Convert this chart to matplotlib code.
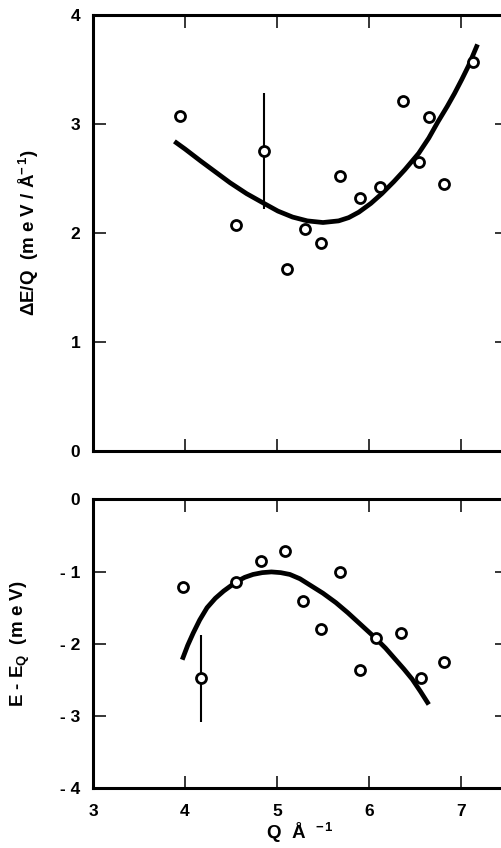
import matplotlib
matplotlib.use('Agg')
import matplotlib.pyplot as plt

# Datos (panel superior: dE/Q)
q_sup = [3.95, 4.56, 4.86, 5.11, 5.30, 5.48, 5.68, 5.90, 6.12, 6.37, 6.54, 6.65, 6.82, 7.13]
de_sup = [3.07, 2.07, 2.75, 1.67, 2.04, 1.91, 2.52, 2.32, 2.42, 3.21, 2.65, 3.06, 2.45, 3.57]
q_err_sup = [4.86]
de_err_sup = [2.75]
err_sup = [0.53]

q_curva_sup = [3.885, 4.0, 4.17, 4.33, 4.49, 4.67, 4.86, 5.01, 5.17, 5.33, 5.50, 5.67,
               5.78, 5.89, 6.02, 6.14, 6.27, 6.39, 6.54, 6.65, 6.75, 6.85, 6.93, 7.01,
               7.08, 7.18]
de_curva_sup = [2.84, 2.77, 2.66, 2.56, 2.46, 2.36, 2.27, 2.20, 2.145, 2.11, 2.095, 2.11,
                2.14, 2.19, 2.27, 2.36, 2.47, 2.58, 2.73, 2.87, 3.02, 3.16, 3.28, 3.41,
                3.53, 3.73]

# Panel inferior: E - E_Q
q_inf = [3.98, 4.17, 4.55, 4.83, 5.09, 5.28, 5.48, 5.68, 5.90, 6.08, 6.35, 6.57, 6.82]
e_inf = [-1.22, -2.48, -1.15, -0.86, -0.72, -1.41, -1.80, -1.00, -2.36, -1.92, -1.85, -2.48, -2.25]
q_err_inf = [4.17]
e_err_inf = [-2.48]
err_inf = [0.60]

q_curva_inf = [3.97, 4.03, 4.09, 4.16, 4.24, 4.33, 4.42, 4.56, 4.65, 4.74, 4.84, 4.94,
               5.04, 5.14, 5.25, 5.35, 5.50, 5.64, 5.77, 5.89, 6.07, 6.18, 6.29, 6.38,
               6.47, 6.56, 6.65]
e_curva_inf = [-2.22, -2.02, -1.85, -1.67, -1.50, -1.37, -1.27, -1.14, -1.08, -1.04,
               -1.015, -1.005, -1.015, -1.04, -1.10, -1.18, -1.30, -1.43, -1.57, -1.71,
               -1.92, -2.06, -2.22, -2.35, -2.49, -2.66, -2.84]

ticks_x = [3, 4, 5, 6, 7]
ticks_y_sup = [0, 1, 2, 3, 4]
ticks_y_inf = [0, -1, -2, -3, -4]
etiquetas_y_inf = ['0', '- 1', '- 2', '- 3', '- 4']

plt.rcParams['font.family'] = ['Liberation Sans', 'DejaVu Sans']
plt.rcParams['font.weight'] = 'bold'
plt.rcParams['mathtext.fontset'] = 'custom'
plt.rcParams['mathtext.rm'] = 'Liberation Sans:bold'
plt.rcParams['mathtext.it'] = 'Liberation Sans:bold'
plt.rcParams['mathtext.bf'] = 'Liberation Sans:bold'
plt.rcParams['mathtext.default'] = 'rm'

fig = plt.figure(figsize=(5.01, 8.48), dpi=100)
ax1 = fig.add_axes([0.1856, 0.4685, 0.8263, 0.5138])
ax2 = fig.add_axes([0.1856, 0.0704, 0.8263, 0.3408])


def estilo_ejes(ax):
    for lado in ax.spines.values():
        lado.set_linewidth(2.2)
    ax.tick_params(direction='in', length=9, width=1.1, top=True, right=True,
                   labelsize=12.5)
    ax.tick_params(axis='y', pad=9)
    ax.tick_params(axis='x', pad=11)
    ax.set_xlim(3, 7.5)
    ax.set_xticks(ticks_x)


# Panel superior
ax1.plot(q_curva_sup, de_curva_sup, color='black', lw=3.4, solid_capstyle='butt',
         solid_joinstyle='round')
ax1.errorbar(q_err_sup, de_err_sup, yerr=err_sup, fmt='none', ecolor='black',
             elinewidth=1.5, capsize=0)
ax1.plot(q_sup, de_sup, 'o', mfc='white', mec='black', ms=7.2, mew=2.0)
estilo_ejes(ax1)
ax1.set_ylim(0, 4)
ax1.set_yticks(ticks_y_sup)
ax1.set_xticklabels([])

# Panel inferior
ax2.plot(q_curva_inf, e_curva_inf, color='black', lw=3.4, solid_capstyle='butt',
         solid_joinstyle='round')
ax2.errorbar(q_err_inf, e_err_inf, yerr=err_inf, fmt='none', ecolor='black',
             elinewidth=1.5, capsize=0)
ax2.plot(q_inf, e_inf, 'o', mfc='white', mec='black', ms=7.2, mew=2.0)
estilo_ejes(ax2)
ax2.set_ylim(-4, 0)
ax2.set_yticks(ticks_y_inf)
ax2.set_yticklabels(etiquetas_y_inf)

# Etiquetas de los ejes
fig.text(0.058, 0.725, r'$\Delta$E/Q  (m e V / Å$^{-\,1}$)', rotation=90,
         ha='center', va='center', fontsize=13.5)
fig.text(0.040, 0.2406, r'E - E$_{\rm Q}$  (m e V)', rotation=90,
         ha='center', va='center', fontsize=13.5)
fig.text(0.598, 0.003, r'Q  Å  $^{-\,1}$', ha='center', va='bottom', fontsize=13.5)

fig.savefig('out.png', dpi=100)
